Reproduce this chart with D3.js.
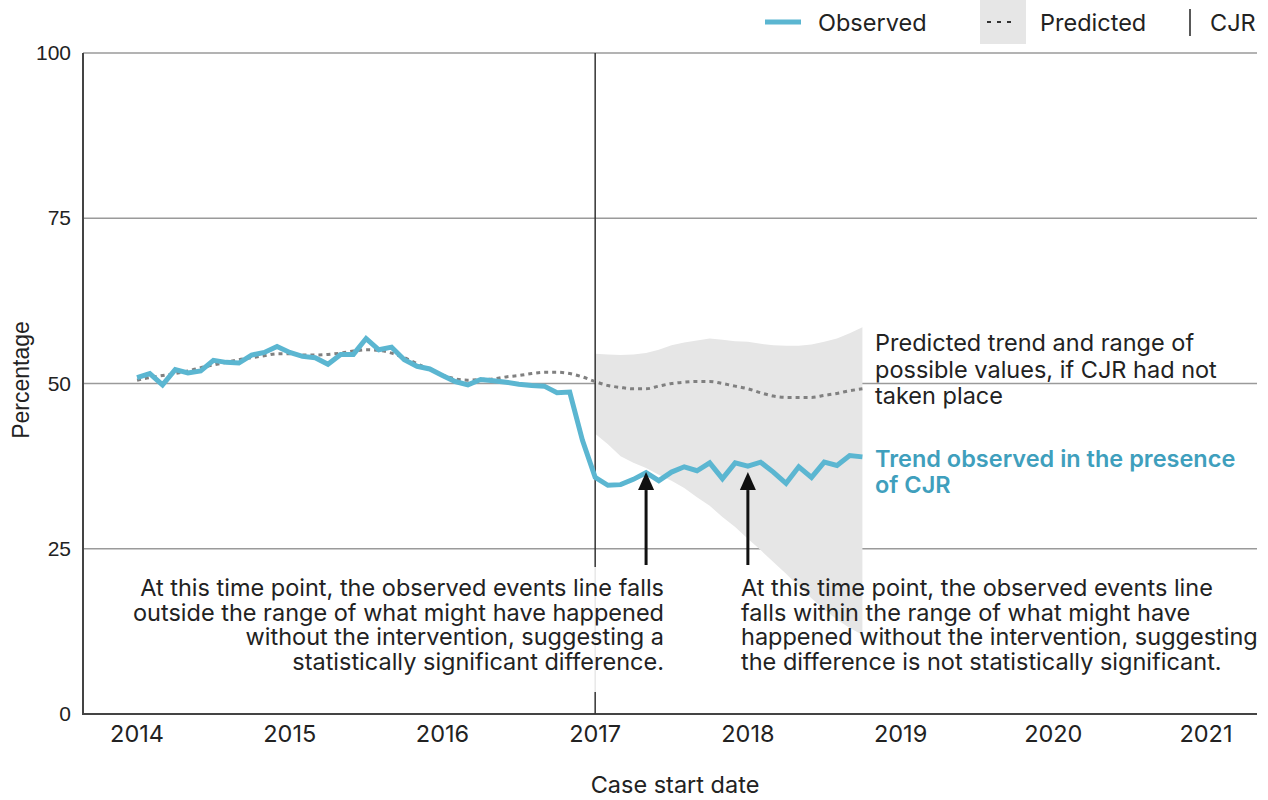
<!DOCTYPE html>
<html lang="en">
<head>
  <meta charset="UTF-8" />
  <title>Observed vs predicted percentage, CJR</title>
  <script src="https://d3js.org/d3.v7.min.js"></script>
  <style>
    body { margin: 0; background: #fff; }
    svg { display: block; font-family: Inter, "Noto Sans", sans-serif; }
    .grid line { stroke: #9a9a9a; stroke-width: 1.5px; }
    .tick-label { font-size: 23.5px; fill: #222; }
    .y-label { font-family: "Liberation Sans", Arial, sans-serif; font-size: 21px; fill: #222; }
    .note { font-size: 23.5px; fill: #222; }
  </style>
</head>
<body>
  <svg id="chart" width="1268" height="800"></svg>

  <script>
    // monthly values starting Jan 2014
    const startYear = 2014;
    const observed = [50.9, 51.5, 49.8, 52.1, 51.6, 51.9, 53.5, 53.2, 53.1, 54.3, 54.7, 55.6,
                      54.7, 54.1, 53.9, 52.9, 54.4, 54.4, 56.8, 55.1, 55.5, 53.6, 52.6, 52.2,
                      51.2, 50.3, 49.8, 50.6, 50.4, 50.2, 49.9, 49.7, 49.6, 48.6, 48.7, 41.4,
                      35.8, 34.6, 34.7, 35.5, 36.5, 35.3, 36.6, 37.4, 36.8, 38.0, 35.6, 38.0,
                      37.5, 38.1, 36.6, 34.9, 37.4, 35.8, 38.1, 37.6, 39.1, 38.9];
    const predicted = [50.5, 50.9, 51.2, 51.5, 51.9, 52.4, 52.8, 53.2, 53.6, 53.9, 54.2, 54.5,
                       54.5, 54.3, 54.3, 54.4, 54.6, 54.9, 55.1, 55.0, 54.6, 53.9, 53.0, 52.1,
                       51.3, 50.7, 50.5, 50.6, 50.7, 51.0, 51.2, 51.5, 51.7, 51.7, 51.5, 51.0,
                       50.3, 49.7, 49.4, 49.2, 49.2, 49.6, 50.0, 50.2, 50.3, 50.3, 50.0, 49.6,
                       49.2, 48.6, 48.1, 47.9, 47.9, 47.9, 48.2, 48.5, 48.9, 49.2];
    // prediction range, from Jan 2017 (month 36) onwards
    const bandStart = 36;
    const bandUpper = [54.5, 54.4, 54.3, 54.4, 54.6, 55.1, 55.8, 56.2, 56.5, 56.8, 56.6, 56.4,
                       56.3, 56.0, 55.8, 55.7, 55.7, 55.9, 56.3, 56.8, 57.6, 58.5];
    const bandLower = [42.4, 40.8, 39.0, 38.0, 37.2, 36.2, 35.3, 34.2, 32.8, 31.5, 29.8, 28.3,
                       26.5, 24.8, 23.0, 21.2, 19.3, 17.5, 15.8, 14.3, 13.0, 12.0];
    const xTicks = [2014, 2015, 2016, 2017, 2018, 2019, 2020, 2021];
    const yTicks = [0, 25, 50, 75, 100];
    const cjrYear = 2017;
    const arrowYears = [2017 + 4 / 12, 2018];
    const arrowValue = 36;

    const blue = '#5bb6d1', blueText = '#3f9fbd', grey = '#808080', band = '#e6e6e6';

    const svg = d3.select('#chart');
    const x = d3.scaleLinear().domain([2013.646, 2021.334]).range([83, 1257]);
    const y = d3.scaleLinear().domain([0, 100]).range([714, 53]);
    const t = i => startYear + i / 12;

    // grid lines
    svg.append('g').attr('class', 'grid')
      .selectAll('line').data(yTicks.filter(d => d > 0)).join('line')
      .attr('x1', x.range()[0]).attr('x2', x.range()[1])
      .attr('y1', d => y(d)).attr('y2', d => y(d));

    // prediction band
    const bandData = bandUpper.map((u, k) => ({ i: bandStart + k, u, l: bandLower[k] }));
    svg.append('path')
      .attr('fill', band)
      .attr('d', d3.area().x(d => x(t(d.i))).y0(d => y(d.l)).y1(d => y(d.u))(bandData));

    // axes frame
    svg.append('line').attr('x1', x.range()[0]).attr('x2', x.range()[0])
      .attr('y1', y(100)).attr('y2', y(0)).attr('stroke', '#444').attr('stroke-width', 2);
    svg.append('line').attr('x1', x.range()[0] - 1).attr('x2', x.range()[1])
      .attr('y1', y(0)).attr('y2', y(0)).attr('stroke', '#444').attr('stroke-width', 2);

    // CJR line, interrupted behind the left annotation
    const cx = x(cjrYear);
    svg.append('line').attr('x1', cx).attr('x2', cx).attr('y1', y(100)).attr('y2', 567)
      .attr('stroke', '#333').attr('stroke-width', 1.5);
    svg.append('line').attr('x1', cx).attr('x2', cx).attr('y1', 567).attr('y2', 692)
      .attr('stroke', '#e8e8e8').attr('stroke-width', 1.5);
    svg.append('line').attr('x1', cx).attr('x2', cx).attr('y1', 692).attr('y2', y(0))
      .attr('stroke', '#333').attr('stroke-width', 1.5);

    // predicted line
    svg.append('path')
      .attr('fill', 'none').attr('stroke', grey).attr('stroke-width', 3)
      .attr('stroke-dasharray', '4,4')
      .attr('d', d3.line().x((d, i) => x(t(i))).y(d => y(d)).curve(d3.curveMonotoneX)(predicted));

    // observed line
    svg.append('path')
      .attr('fill', 'none').attr('stroke', blue).attr('stroke-width', 5)
      .attr('stroke-linejoin', 'miter')
      .attr('d', d3.line().x((d, i) => x(t(i))).y(d => y(d))(observed));

    // tick labels
    svg.append('g').selectAll('text').data(yTicks).join('text')
      .attr('class', 'y-label').attr('x', 71).attr('y', d => y(d) + 7)
      .attr('text-anchor', 'end').text(d => d);
    svg.append('g').selectAll('text').data(xTicks).join('text')
      .attr('class', 'tick-label').attr('x', d => x(d)).attr('y', 742)
      .attr('text-anchor', 'middle').text(d => d);

    svg.append('text').attr('class', 'y-label').style('font-size', '23px')
      .attr('transform', 'translate(29,380) rotate(-90)').attr('text-anchor', 'middle')
      .text('Percentage');
    svg.append('text').attr('class', 'tick-label')
      .attr('x', 675).attr('y', 793).attr('text-anchor', 'middle').text('Case start date');

    // arrows
    arrowYears.forEach(a => {
      const ax = x(a);
      svg.append('line').attr('x1', ax).attr('x2', ax).attr('y1', 565).attr('y2', y(arrowValue) + 14)
        .attr('stroke', '#111').attr('stroke-width', 3);
      const tip = y(arrowValue) - 4;
      svg.append('path').attr('fill', '#111')
        .attr('d', `M${ax},${tip} L${ax - 8},${tip + 18} L${ax + 8},${tip + 18} Z`);
    });

    // annotations
    function block(lines, px, py, anchor, lh, cls, extra) {
      const el = svg.append('text').attr('class', cls).attr('text-anchor', anchor);
      if (extra) extra(el);
      lines.forEach((s, k) => el.append('tspan').attr('x', px).attr('y', py + k * lh).text(s));
    }
    block(['At this time point, the observed events line falls',
           'outside the range of what might have happened',
           'without the intervention, suggesting a',
           'statistically significant difference.'], 664, 596, 'end', 24.5, 'note');
    block(['At this time point, the observed events line',
           'falls within the range of what might have',
           'happened without the intervention, suggesting',
           'the difference is not statistically significant.'], 741, 596, 'start', 24.5, 'note');
    block(['Predicted trend and range of',
           'possible values, if CJR had not',
           'taken place'], 875, 351, 'start', 26.5, 'note');
    block(['Trend observed in the presence',
           'of CJR'], 875, 467, 'start', 26, 'note',
          el => el.attr('font-weight', 600).style('fill', blueText));

    // legend
    const lg = svg.append('g');
    lg.append('line').attr('x1', 765).attr('x2', 801).attr('y1', 22).attr('y2', 22)
      .attr('stroke', blue).attr('stroke-width', 5);
    lg.append('text').attr('class', 'note').attr('x', 818).attr('y', 31).text('Observed');
    lg.append('rect').attr('x', 980).attr('y', 0).attr('width', 46).attr('height', 44).attr('fill', band);
    lg.append('line').attr('x1', 987).attr('x2', 1016).attr('y1', 22).attr('y2', 22)
      .attr('stroke', '#333').attr('stroke-width', 2).attr('stroke-dasharray', '4,6');
    lg.append('text').attr('class', 'note').attr('x', 1040).attr('y', 31).text('Predicted');
    lg.append('line').attr('x1', 1190).attr('x2', 1190).attr('y1', 9).attr('y2', 36)
      .attr('stroke', '#222').attr('stroke-width', 1.5);
    lg.append('text').attr('class', 'note').attr('x', 1210).attr('y', 31).text('CJR');
  </script>
</body>
</html>
